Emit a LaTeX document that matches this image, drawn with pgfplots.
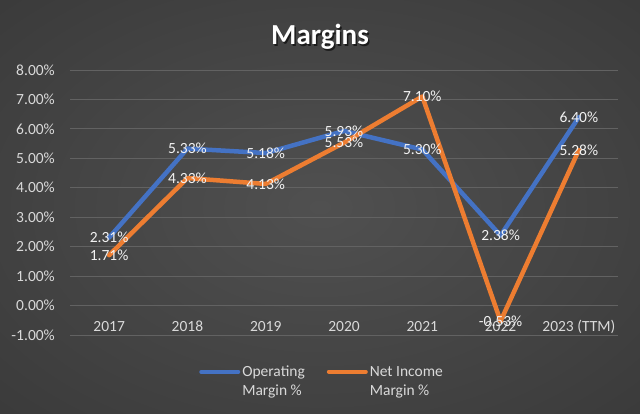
\documentclass[border=0pt]{standalone}
\usepackage{pgfplots}
\pgfplotsset{compat=1.18}
\usepackage{fontspec}
\setmainfont{Carlito}
\definecolor{opblue}{HTML}{4472C4}
\definecolor{niorange}{HTML}{ED7D31}
\definecolor{gridc}{RGB}{98,98,98}
\definecolor{tickc}{RGB}{217,217,217}
\definecolor{bgin}{RGB}{80,80,80}
\definecolor{bgmid}{RGB}{50,50,50}
\definecolor{bgout}{RGB}{36,36,36}
\pgfdeclareradialshading{chartbg}{\pgfpoint{0bp}{0bp}}{color(0bp)=(bgin); color(50bp)=(bgmid); color(72bp)=(bgout)}
\begin{document}
\begin{tikzpicture}
\shade[shading=chartbg] (0pt,0pt) rectangle (640pt,414pt);
\node[font=\fontsize{29}{34}\selectfont\bfseries, text=black, opacity=0.6, anchor=base] at (321.5pt,367.5pt) {Margins};
\node[font=\fontsize{29}{34}\selectfont\bfseries, text=white, anchor=base] at (320pt,369pt) {Margins};
\begin{axis}[
  at={(70pt,79pt)}, anchor=south west,
  scale only axis, width=548pt, height=265pt,
  xmin=-0.5, xmax=6.5, ymin=-1, ymax=8,
  ytick={-1,0,...,8}, xtick={0,...,6},
  xticklabels={2017,2018,2019,2020,2021,2022,2023 (TTM)},
  axis line style={draw=none},
  major tick length=0pt,
  ymajorgrids, grid style={gridc, line width=0.9pt},
  tick label style={font=\fontsize{15.5}{18}\selectfont, text=tickc},
  yticklabel style={anchor=east, inner sep=0pt, xshift=-15pt},
  xticklabel style={anchor=base, inner sep=0pt, yshift=3pt},
  /pgf/number format/assume math mode=true,
  yticklabel={\pgfmathprintnumber[fixed,fixed zerofill,precision=2]{\tick}\%},
  clip=false,
  legend style={at={(axis description cs:0.46,-0.10)}, anchor=north, draw=none, fill=none,
    font=\fontsize{15.5}{19}\selectfont, text=tickc, legend columns=2,
    cells={anchor=west, align=left, inner xsep=1pt},
    /tikz/every even column/.append style={column sep=20pt}},
  legend image code/.code={\draw[#1, line width=4pt, line cap=round] (0pt,9.5pt) -- (37pt,9.5pt);},
  every node near coord/.append style={anchor=center, font=\fontsize{15.5}{18}\selectfont, text=white!95!black},
  nodes near coords={\pgfmathprintnumber[fixed,fixed zerofill,precision=2]{\pgfplotspointmeta}\%},
]
\addplot[opblue, line width=4.5pt, line join=round, line cap=round, no marks, nodes near coords={}]
  coordinates {(0,2.31)(1,5.33)(2,5.18)(3,5.93)(4,5.30)(5,2.38)(6,6.40)};
\addlegendentry{Operating\\Margin \%}
\addplot[niorange, line width=4.5pt, line join=round, line cap=round, no marks, nodes near coords={}]
  coordinates {(0,1.71)(1,4.33)(2,4.13)(3,5.53)(4,7.10)(5,-0.53)(6,5.28)};
\addlegendentry{Net Income\\Margin \%}
\addplot[draw=none, no marks, forget plot, point meta=y]
  coordinates {(0,2.31)(1,5.33)(2,5.18)(3,5.93)(4,5.30)(5,2.38)(6,6.40)};
\addplot[draw=none, no marks, forget plot, point meta=y]
  coordinates {(0,1.71)(1,4.33)(2,4.13)(3,5.53)(4,7.10)(5,-0.53)(6,5.28)};
\end{axis}
\pgfresetboundingbox
\path (0pt,0pt) rectangle (640pt,414pt);
\end{tikzpicture}
\end{document}
